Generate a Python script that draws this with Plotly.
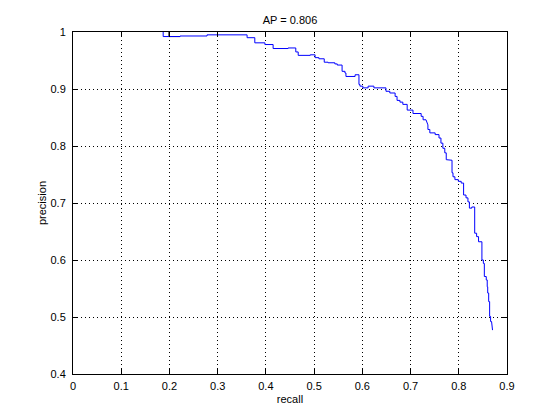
import plotly.graph_objects as go

# Precision-recall curve vertices (recall, precision)
recall = [0.187, 0.187, 0.222, 0.222, 0.278, 0.278, 0.361, 0.361, 0.377, 0.377,
          0.398, 0.398, 0.415, 0.415, 0.446, 0.446, 0.462, 0.462, 0.467, 0.467,
          0.492, 0.492, 0.502, 0.502, 0.510, 0.510, 0.521, 0.521, 0.529, 0.529,
          0.543, 0.543, 0.548, 0.548, 0.558, 0.558, 0.564, 0.564, 0.566, 0.566,
          0.585, 0.585, 0.593, 0.593, 0.595, 0.595, 0.601, 0.601, 0.612, 0.612,
          0.624, 0.624, 0.649, 0.649, 0.657, 0.657, 0.668, 0.668, 0.672, 0.672,
          0.678, 0.678, 0.684, 0.684, 0.693, 0.693, 0.705, 0.705, 0.722, 0.722,
          0.726, 0.726, 0.732, 0.736, 0.736, 0.740, 0.740, 0.751, 0.751, 0.759,
          0.759, 0.763, 0.763, 0.767, 0.767, 0.771, 0.771, 0.774, 0.774, 0.778,
          0.786, 0.786, 0.788, 0.788, 0.792, 0.792, 0.799, 0.799, 0.805, 0.805,
          0.810, 0.810, 0.815, 0.815, 0.819, 0.819, 0.822, 0.822, 0.827, 0.827,
          0.833, 0.833, 0.837, 0.837, 0.841, 0.841, 0.848, 0.848, 0.851, 0.851,
          0.853, 0.853, 0.857, 0.857, 0.859, 0.859, 0.860, 0.860, 0.862, 0.862,
          0.864, 0.864, 0.866, 0.866, 0.868, 0.870]
precision = [1.000, 0.992, 0.992, 0.993, 0.993, 0.995, 0.995, 0.990, 0.990, 0.981,
             0.981, 0.978, 0.978, 0.971, 0.971, 0.972, 0.972, 0.965, 0.965, 0.959,
             0.959, 0.960, 0.960, 0.955, 0.955, 0.953, 0.953, 0.947, 0.947, 0.946,
             0.946, 0.944, 0.944, 0.942, 0.942, 0.931, 0.931, 0.928, 0.928, 0.922,
             0.922, 0.925, 0.925, 0.908, 0.908, 0.905, 0.905, 0.902, 0.902, 0.905,
             0.905, 0.902, 0.902, 0.896, 0.896, 0.893, 0.893, 0.887, 0.887, 0.880,
             0.880, 0.877, 0.877, 0.873, 0.873, 0.863, 0.863, 0.857, 0.857, 0.852,
             0.852, 0.846, 0.846, 0.837, 0.829, 0.829, 0.823, 0.823, 0.820, 0.820,
             0.814, 0.814, 0.805, 0.805, 0.796, 0.796, 0.788, 0.788, 0.776, 0.776,
             0.775, 0.753, 0.753, 0.746, 0.746, 0.741, 0.741, 0.738, 0.738, 0.735,
             0.735, 0.714, 0.714, 0.709, 0.709, 0.702, 0.702, 0.691, 0.691, 0.693,
             0.693, 0.647, 0.647, 0.641, 0.641, 0.632, 0.632, 0.600, 0.600, 0.594,
             0.594, 0.571, 0.571, 0.565, 0.565, 0.553, 0.553, 0.542, 0.542, 0.527,
             0.527, 0.501, 0.501, 0.492, 0.492, 0.477]

# Short black segment visible under the blue curve at the start
recall_black = [0.199, 0.199, 0.222]
precision_black = [1.000, 0.992, 0.992]

title_text = "AP = 0.806"
x_ticks = [0, 0.1, 0.2, 0.3, 0.4, 0.5, 0.6, 0.7, 0.8, 0.9]
y_ticks = [0.4, 0.5, 0.6, 0.7, 0.8, 0.9, 1.0]
x_tick_labels = ["0", "0.1", "0.2", "0.3", "0.4", "0.5", "0.6", "0.7", "0.8", "0.9"]
y_tick_labels = ["0.4", "0.5", "0.6", "0.7", "0.8", "0.9", "1"]

fig = go.Figure()
fig.add_trace(go.Scatter(x=recall_black, y=precision_black, mode="lines",
                         line=dict(color="black", width=1), showlegend=False))
fig.add_trace(go.Scatter(x=recall, y=precision, mode="lines",
                         line=dict(color="#0000ff", width=1), showlegend=False))

font = dict(family="Liberation Sans, Arial, sans-serif", size=11, color="black")
axis_common = dict(showline=True, linecolor="black", linewidth=1, mirror="ticks",
                   ticks="inside", ticklen=5, tickcolor="black", tickwidth=1,
                   showgrid=True, gridcolor="black", gridwidth=1, griddash="1px,3px",
                   zeroline=False, tickfont=font, automargin=False)

fig.update_layout(
    width=560, height=420,
    paper_bgcolor="white", plot_bgcolor="white",
    margin=dict(l=65, r=61, t=24, b=54, autoexpand=False),
    title=dict(text=title_text, x=0.5, xref="paper", xanchor="center",
               y=1 - 12 / 420, yref="container", yanchor="middle", font=font),
    xaxis=dict(range=[0, 0.9], tickvals=x_ticks, ticktext=x_tick_labels,
               ticklabelstandoff=2,
               title=dict(text="recall", font=font, standoff=4), **axis_common),
    yaxis=dict(range=[0.4, 1.0], tickvals=y_ticks, ticktext=y_tick_labels,
               ticklabelstandoff=4,
               title=dict(text="precision", font=font, standoff=1), **axis_common),
)

fig.write_html("out.html")
